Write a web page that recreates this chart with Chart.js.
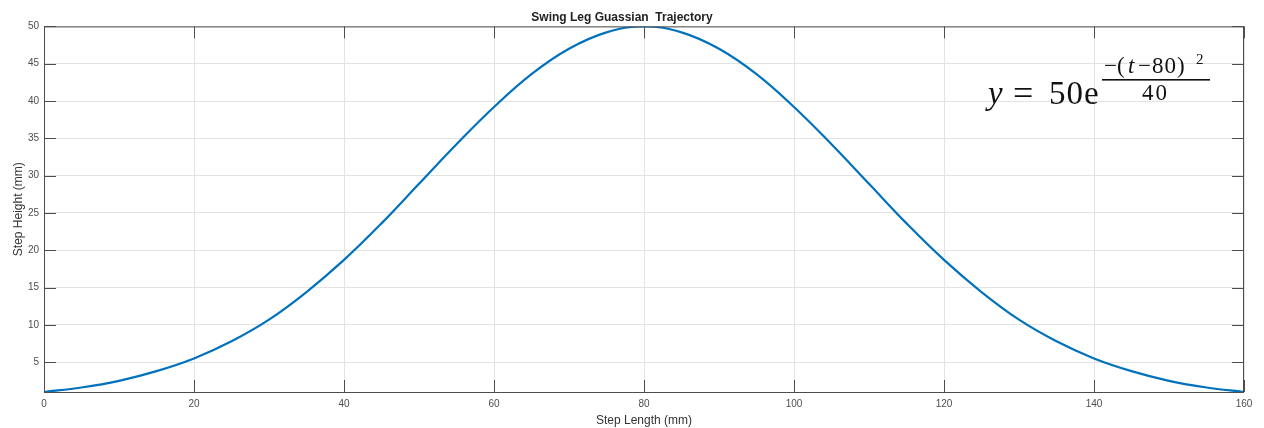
<!DOCTYPE html>
<html>
<head>
<meta charset="utf-8">
<script src="https://cdn.jsdelivr.net/npm/chart.js@4"></script>
<style>
  html, body { margin: 0; padding: 0; background: #fff; }
  #wrap { width: 1264px; height: 428px; }
</style>
</head>
<body>
<div id="wrap"><canvas id="c" width="1264" height="428"></canvas></div>
<script>
// step length (mm) and step height (mm)
const stepLength = [0, 5, 10, 15, 20, 25, 30, 35, 40, 45, 50, 55, 60, 65, 70, 75, 80,
    85, 90, 95, 100, 105, 110, 115, 120, 125, 130, 135, 140, 145, 150, 155, 160];
const stepHeight = [1.0, 1.6, 2.5, 3.8, 5.5, 7.8, 10.7, 14.4, 18.7, 23.6, 28.9, 34.2, 39.2, 43.6, 47.0, 49.2, 50.0,
    49.2, 47.0, 43.6, 39.2, 34.2, 28.9, 23.6, 18.7, 14.4, 10.7, 7.8, 5.5, 3.8, 2.5, 1.6, 1.0];
const xTicks = [0, 20, 40, 60, 80, 100, 120, 140, 160];
const yTicks = [5, 10, 15, 20, 25, 30, 35, 40, 45, 50];

const axisColor = '#4d4d4d';
const gridColor = '#e3e3e3';
const lineColor = '#0072bd';
const serif = '"Liberation Serif", "DejaVu Serif", serif';
const sans = 'Arial, "Liberation Sans", sans-serif';

// 文字を指定位置に置く
function put(ctx, text, font, x, y, spacing) {
    ctx.font = font;
    ctx.letterSpacing = (spacing || 0) + 'px';
    ctx.fillText(text, x, y);
}

// MATLAB 風の枠と内向き目盛り、数式テキスト
const boxPlugin = {
    id: 'boxPlugin',
    afterDraw(chart) {
        const { ctx, chartArea: a, scales } = chart;
        ctx.save();
        ctx.strokeStyle = axisColor;
        ctx.lineWidth = 1;
        ctx.strokeRect(a.left + 0.5, a.top + 0.5, a.right - a.left - 1, a.bottom - a.top);
        ctx.beginPath();
        xTicks.forEach(v => {
            const x = Math.round(scales.x.getPixelForValue(v)) + 0.5;
            ctx.moveTo(x, a.bottom); ctx.lineTo(x, a.bottom - 12);
            ctx.moveTo(x, a.top); ctx.lineTo(x, a.top + 12);
        });
        yTicks.forEach(v => {
            const y = Math.round(scales.y.getPixelForValue(v)) + 0.5;
            ctx.moveTo(a.left, y); ctx.lineTo(a.left + 12, y);
            ctx.moveTo(a.right, y); ctx.lineTo(a.right - 12, y);
        });
        ctx.stroke();

        // 数式
        ctx.fillStyle = '#111';
        ctx.textBaseline = 'alphabetic';
        put(ctx, 'y', 'italic 33px ' + serif, 988, 104);
        put(ctx, '=', '36px ' + serif, 1013, 105);
        put(ctx, '50e', '33px ' + serif, 1049, 104, 1);
        put(ctx, '\u2212(', '23px ' + serif, 1104, 73);
        put(ctx, 't', 'italic 23px ' + serif, 1128, 73);
        put(ctx, '\u221280)', '23px ' + serif, 1138, 73, 1);
        put(ctx, '2', '15px ' + serif, 1196, 64);
        ctx.fillRect(1102, 79, 108, 1.6);
        put(ctx, '40', '23px ' + serif, 1142, 100, 2);
        ctx.restore();
    }
};

new Chart(document.getElementById('c'), {
    type: 'line',
    data: {
        datasets: [{
            data: stepLength.map((x, i) => ({ x: x, y: stepHeight[i] })),
            borderColor: lineColor,
            borderWidth: 2.2,
            pointRadius: 0,
            fill: false,
            tension: 0.4
        }]
    },
    options: {
        responsive: false,
        animation: false,
        layout: { padding: { left: 0, right: 20, top: 0, bottom: 0 } },
        plugins: {
            legend: { display: false },
            tooltip: { enabled: false },
            title: {
                display: true,
                text: 'Swing Leg Guassian  Trajectory',
                color: '#222',
                font: { family: sans, size: 12, weight: 'bold' },
                padding: { top: 10, bottom: 2 }
            }
        },
        scales: {
            x: {
                type: 'linear',
                min: 0,
                max: 160,
                afterBuildTicks: s => { s.ticks = xTicks.map(v => ({ value: v })); },
                afterFit: s => { s.height = 36; },
                grid: { color: gridColor, drawTicks: false },
                border: { display: false },
                ticks: {
                    color: axisColor,
                    padding: 6,
                    maxRotation: 0,
                    font: { family: sans, size: 10 }
                },
                title: {
                    display: true,
                    text: 'Step Length (mm)',
                    color: '#333',
                    padding: { top: 0, bottom: 0 },
                    font: { family: sans, size: 12 }
                }
            },
            y: {
                type: 'linear',
                min: 1,
                max: 50,
                afterBuildTicks: s => { s.ticks = yTicks.map(v => ({ value: v })); },
                afterFit: s => { s.width = 44; },
                grid: { color: gridColor, drawTicks: false },
                border: { display: false },
                ticks: {
                    color: axisColor,
                    padding: 5,
                    font: { family: sans, size: 10 }
                },
                title: {
                    display: true,
                    text: 'Step Height (mm)',
                    color: '#333',
                    padding: { top: 11, bottom: 0 },
                    font: { family: sans, size: 12 }
                }
            }
        }
    },
    plugins: [boxPlugin]
});
</script>
</body>
</html>
